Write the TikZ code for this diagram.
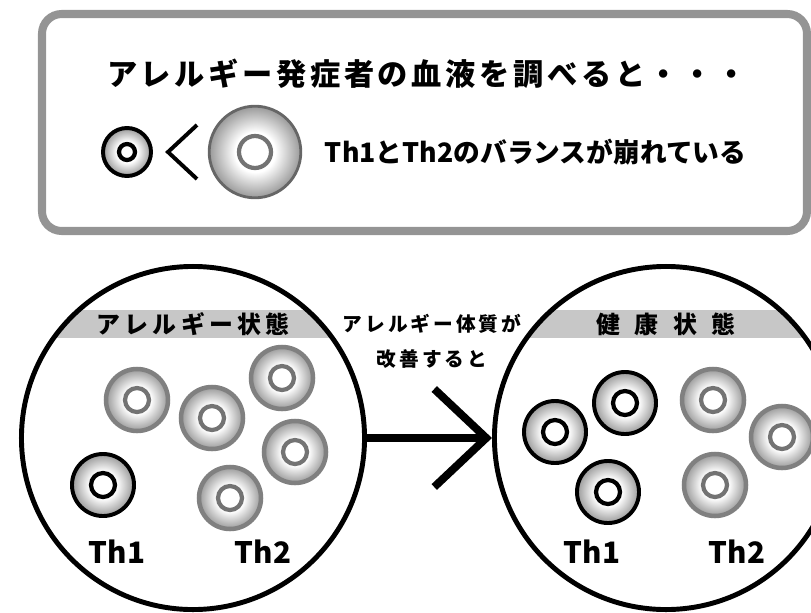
\documentclass[tikz,border=0pt]{standalone}
\usepackage{fontspec}
\setmainfont{Noto Sans CJK JP}
\usetikzlibrary{arrows.meta}

% cell body: white round the nucleus, grey towards the rim
\pgfdeclareradialshading{cellshade}{\pgfpoint{0bp}{0bp}}{color(0bp)=(white); color(11bp)=(white); color(25bp)=(black!40); color(50bp)=(black!40)}

\tikzstyle{frame} = [draw=black!42, line width=5.7pt, rounded corners=14pt]
\tikzstyle{cell} = [circle, shade, shading=cellshade, minimum size=1.55cm, inner sep=0pt]
\tikzset{
  th1/.style={cell, draw=black, line width=2.8pt,
    path picture={\draw[black, line width=3pt, fill=white] (path picture bounding box.center) circle (#1);}},
  th1/.default=0.3cm,
  th2/.style={cell, draw=black!50, line width=3.2pt,
    path picture={\draw[black!55, line width=3pt, fill=white] (path picture bounding box.center) circle (#1);}},
  th2/.default=0.3cm
}
\tikzstyle{panel} = [circle, draw, line width=3.5pt, minimum size=8.575cm, inner sep=0pt,
    path picture={\fill[black!22] ([shift={(-200,-128)}]path picture bounding box.center) rectangle ++(400,28);}]
\tikzstyle{title} = [font=\fontsize{21.5}{24}\selectfont\bfseries\addfontfeature{LetterSpace=12}]
\tikzstyle{remark} = [font=\fontsize{19}{22}\selectfont\bfseries]
\tikzstyle{state} = [font=\fontsize{17}{20}\selectfont\bfseries\addfontfeature{LetterSpace=18}]
\tikzstyle{note} = [font=\fontsize{14}{25}\selectfont\bfseries\addfontfeature{LetterSpace=15}, align=center]
\tikzstyle{tag} = [font=\fontsize{21}{24}\selectfont\bfseries]
\tikzstyle{line} = [draw, line width=5.6pt, -{Straight Barb[length=1.3cm, width=2.45cm]}]

\begin{document}
\begin{tikzpicture}[x=0.025cm, y=-0.025cm]
	\useasboundingbox (0,0) rectangle (811,613);

	% blood test box
	\draw[frame] (42,14) rectangle (807,231);
	\node[title] (head) at (427,74) {アレルギー発症者の血液を調べると・・・};
	\node[th1=0.2cm, minimum size=1.2cm] (few) at (127,152) {};
	\draw[line width=2.8pt] (197,125) -- (168,152) -- (197,179);
	\node[th2=0.4cm, minimum size=2.29cm, draw=black!60, line width=2pt] (many) at (255,152) {};
	\node[remark, anchor=west] (balance) at (320,152) {Th1とTh2のバランスが崩れている};

	% the two states
	\node[panel] (ill) at (193,438) {};
	\node[panel] (well) at (666,438) {};
	\node[state] (illname) at (193,324) {アレルギー状態};
	\node[state] (wellname) at (666,324) {健\hskip.6em 康\hskip.6em 状\hskip.6em 態};

	\node[th2] (a1) at (137,400) {};
	\node[th2] (a2) at (212,418) {};
	\node[th2] (a3) at (282,378) {};
	\node[th2] (a4) at (295,452) {};
	\node[th2] (a5) at (230,498) {};
	\node[th1] (a6) at (103,485) {};
	\node[tag] at (117,552) {Th1};
	\node[tag] at (263,552) {Th2};

	\node[th1] (b1) at (555,432) {};
	\node[th1] (b2) at (625,403) {};
	\node[th1] (b3) at (608,492) {};
	\node[th2] (b4) at (713,400) {};
	\node[th2] (b5) at (782,437) {};
	\node[th2] (b6) at (715,485) {};
	\node[tag] at (592,552) {Th1};
	\node[tag] at (737,552) {Th2};

	\path [line] (ill) edge (well);
	\node[note] (when) at (432,341) {アレルギー体質が\\改善すると};
\end{tikzpicture}
\end{document}
